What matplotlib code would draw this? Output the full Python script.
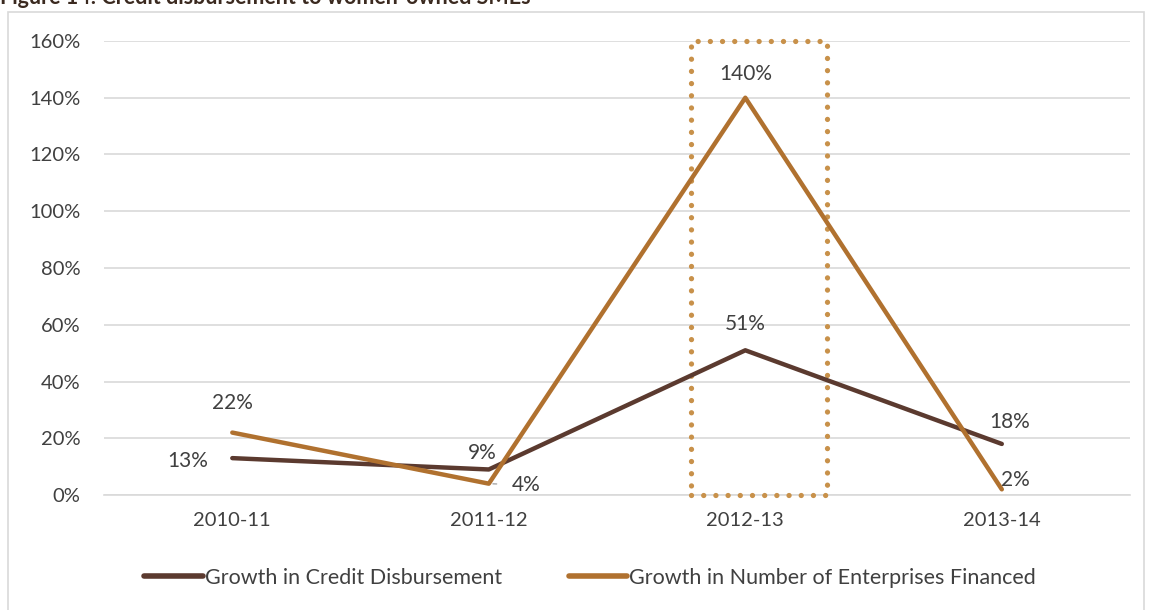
import matplotlib.pyplot as plt
from matplotlib.patches import Rectangle

plt.rcParams['font.family'] = ['Lato', 'DejaVu Sans']

years = ['2010-11', '2011-12', '2012-13', '2013-14']
credit = [0.13, 0.09, 0.51, 0.18]
enterprises = [0.22, 0.04, 1.40, 0.02]
yticks = [0, 0.2, 0.4, 0.6, 0.8, 1.0, 1.2, 1.4, 1.6]

c_credit = '#5b3a2f'
c_ent = '#b0712f'
c_box = '#c8914a'
c_text = '#404040'

fig = plt.figure(figsize=(11.51, 6.10), dpi=100)
ax = fig.add_axes([0.0904, 0.1885, 0.8914, 0.7443])

x = list(range(len(years)))
ax.plot(x, credit, color=c_credit, lw=3.2, solid_capstyle='round',
        label='Growth in Credit Disbursement', zorder=3)
ax.plot(x, enterprises, color=c_ent, lw=3.2, solid_capstyle='round',
        label='Growth in Number of Enterprises Financed', zorder=3)

# dotted highlight around 2012-13
ax.add_patch(Rectangle((2 - 0.21, 0), 0.53, 1.6, fill=False, ec=c_box,
                       lw=3.8, ls=(0, (0.01, 2.3)), capstyle='round',
                       zorder=2.8, clip_on=False))

ax.set_xlim(-0.5, 3.5)
ax.set_ylim(0, 1.6)
ax.set_yticks(yticks)
ax.set_yticklabels([f'{round(v * 100)}%' for v in yticks])
ax.set_xticks(x)
ax.set_xticklabels(years)
ax.tick_params(length=0, labelsize=14.5, labelcolor=c_text)
ax.tick_params(axis='x', pad=12)
ax.tick_params(axis='y', pad=17)
ax.grid(axis='y', color='#d9d9d9', lw=1.2)
ax.set_axisbelow(True)
for s in ['top', 'right', 'left']:
    ax.spines[s].set_visible(False)
ax.spines['bottom'].set_color('#d9d9d9')
ax.spines['bottom'].set_linewidth(1.2)

fs = 15
def lab(txt, xy, dx, dy):
    ax.annotate(txt, xy, xytext=(dx, dy), textcoords='offset points',
                ha='center', va='center', fontsize=fs, color=c_text)

lab(f'{credit[0]:.0%}', (0, credit[0]), -32, -2)
lab(f'{enterprises[0]:.0%}', (0, enterprises[0]), 0, 21)
lab(f'{credit[1]:.0%}', (1, credit[1]), -5, 12)
ax.annotate(f'{enterprises[1]:.0%}', (1, enterprises[1]), xytext=(27, -1),
            textcoords='offset points', ha='center', va='center',
            fontsize=fs, color=c_text,
            arrowprops=dict(arrowstyle='-', color='#a6a6a6', lw=1,
                            shrinkA=9, shrinkB=3))
lab(f'{credit[2]:.0%}', (2, credit[2]), 0, 19)
lab(f'{enterprises[2]:.0%}', (2, enterprises[2]), 0, 17)
lab(f'{credit[3]:.0%}', (3, credit[3]), 6, 16)
lab(f'{enterprises[3]:.0%}', (3, enterprises[3]), 10, 7)

leg = ax.legend(loc='center', bbox_to_anchor=(0.5126, 0.0525),
                bbox_transform=fig.transFigure, ncol=2, frameon=False,
                fontsize=15.5, handlelength=2.7, handletextpad=0.1,
                columnspacing=3.1, labelcolor=c_text)
for h in leg.get_lines():
    h.set_linewidth(4)

# outer frame of the figure panel
fig.add_artist(Rectangle((8 / 1151, -0.01), 1136 / 1151, 1 - 12 / 610 + 0.01,
                         transform=fig.transFigure, fill=False,
                         ec='#d9d9d9', lw=1.2))
fig.text(0.0, 1 - 4 / 610, 'Figure 14: Credit disbursement to women-owned SMEs',
         fontsize=15.5, fontweight='bold', color='#3b2a20', va='baseline')

fig.savefig('out.png', dpi=100)
